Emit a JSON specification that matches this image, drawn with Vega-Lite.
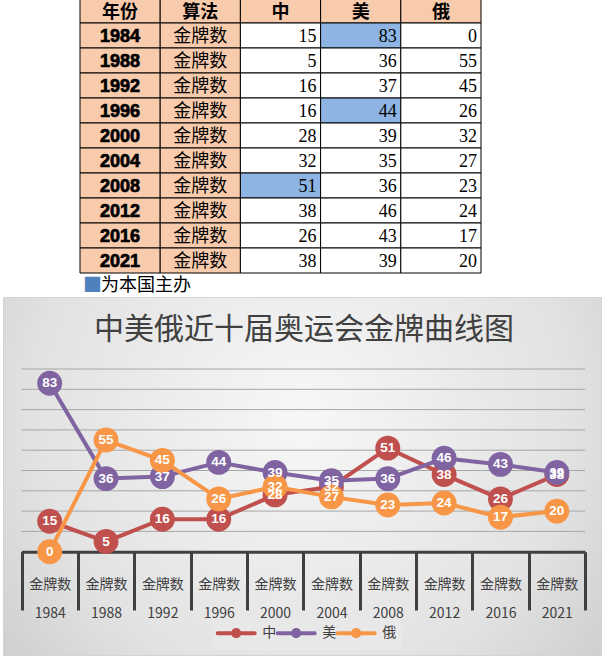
{
  "$schema": "https://vega.github.io/schema/vega-lite/v6.json",
  "padding": {"left": 2, "top": 0, "right": 0, "bottom": 0},
  "background": "#FFFFFF",
  "spacing": 0,
  "bounds": "flush",
  "config": {"font": "Noto Sans CJK SC"},
  "datasets": {
    "medals": [
      {"year": "1984", "country": "中", "value": 15, "host": "no"},
      {"year": "1988", "country": "中", "value": 5, "host": "no"},
      {"year": "1992", "country": "中", "value": 16, "host": "no"},
      {"year": "1996", "country": "中", "value": 16, "host": "no"},
      {"year": "2000", "country": "中", "value": 28, "host": "no"},
      {"year": "2004", "country": "中", "value": 32, "host": "no"},
      {"year": "2008", "country": "中", "value": 51, "host": "yes"},
      {"year": "2012", "country": "中", "value": 38, "host": "no"},
      {"year": "2016", "country": "中", "value": 26, "host": "no"},
      {"year": "2021", "country": "中", "value": 38, "host": "no"},
      {"year": "1984", "country": "美", "value": 83, "host": "yes"},
      {"year": "1988", "country": "美", "value": 36, "host": "no"},
      {"year": "1992", "country": "美", "value": 37, "host": "no"},
      {"year": "1996", "country": "美", "value": 44, "host": "yes"},
      {"year": "2000", "country": "美", "value": 39, "host": "no"},
      {"year": "2004", "country": "美", "value": 35, "host": "no"},
      {"year": "2008", "country": "美", "value": 36, "host": "no"},
      {"year": "2012", "country": "美", "value": 46, "host": "no"},
      {"year": "2016", "country": "美", "value": 43, "host": "no"},
      {"year": "2021", "country": "美", "value": 39, "host": "no"},
      {"year": "1984", "country": "俄", "value": 0, "host": "no"},
      {"year": "1988", "country": "俄", "value": 55, "host": "no"},
      {"year": "1992", "country": "俄", "value": 45, "host": "no"},
      {"year": "1996", "country": "俄", "value": 26, "host": "no"},
      {"year": "2000", "country": "俄", "value": 32, "host": "no"},
      {"year": "2004", "country": "俄", "value": 27, "host": "no"},
      {"year": "2008", "country": "俄", "value": 23, "host": "no"},
      {"year": "2012", "country": "俄", "value": 24, "host": "no"},
      {"year": "2016", "country": "俄", "value": 17, "host": "no"},
      {"year": "2021", "country": "俄", "value": 20, "host": "no"}
    ],
    "heads": [
      {"row": "header", "col": "年份", "text": "年份"},
      {"row": "header", "col": "算法", "text": "算法"},
      {"row": "header", "col": "中", "text": "中"},
      {"row": "header", "col": "美", "text": "美"},
      {"row": "header", "col": "俄", "text": "俄"},
      {"row": "1984", "col": "年份", "text": "1984"},
      {"row": "1984", "col": "算法", "text": "金牌数"},
      {"row": "1988", "col": "年份", "text": "1988"},
      {"row": "1988", "col": "算法", "text": "金牌数"},
      {"row": "1992", "col": "年份", "text": "1992"},
      {"row": "1992", "col": "算法", "text": "金牌数"},
      {"row": "1996", "col": "年份", "text": "1996"},
      {"row": "1996", "col": "算法", "text": "金牌数"},
      {"row": "2000", "col": "年份", "text": "2000"},
      {"row": "2000", "col": "算法", "text": "金牌数"},
      {"row": "2004", "col": "年份", "text": "2004"},
      {"row": "2004", "col": "算法", "text": "金牌数"},
      {"row": "2008", "col": "年份", "text": "2008"},
      {"row": "2008", "col": "算法", "text": "金牌数"},
      {"row": "2012", "col": "年份", "text": "2012"},
      {"row": "2012", "col": "算法", "text": "金牌数"},
      {"row": "2016", "col": "年份", "text": "2016"},
      {"row": "2016", "col": "算法", "text": "金牌数"},
      {"row": "2021", "col": "年份", "text": "2021"},
      {"row": "2021", "col": "算法", "text": "金牌数"}
    ]
  },
  "vconcat": [
    {
      "width": 598,
      "height": 297,
      "view": {"stroke": null},
      "layer": [
        {
          "data": {"name": "heads"},
          "mark": {"type": "rect", "color": "#F8CBAD", "stroke": "#000000", "strokeWidth": 1, "clip": true},
          "encoding": {
            "x": {"field": "col", "type": "nominal", "axis": null,
              "scale": {"type": "band", "domain": ["年份", "算法", "中", "美", "俄"], "range": [77, 478], "paddingInner": 0, "paddingOuter": 0}},
            "y": {"field": "row", "type": "nominal", "axis": null,
              "scale": {"type": "band", "domain": ["header", "1984", "1988", "1992", "1996", "2000", "2004", "2008", "2012", "2016", "2021", "note"], "range": [-2, 298], "paddingInner": 0, "paddingOuter": 0}}
          }
        },
        {
          "data": {"name": "medals"},
          "mark": {"type": "rect", "stroke": "#000000", "strokeWidth": 1},
          "encoding": {
            "x": {"field": "country", "type": "nominal", "axis": null},
            "y": {"field": "year", "type": "nominal", "axis": null},
            "fill": {"field": "host", "type": "nominal", "legend": null,
              "scale": {"domain": ["no", "yes"], "range": ["#FFFFFF", "#8DB4E2"]}}
          }
        },
        {
          "data": {"name": "heads"},
          "transform": [{"filter": "datum.row === 'header'"}],
          "mark": {"type": "text", "font": "Noto Sans CJK SC", "fontWeight": "bold", "fontSize": 18, "color": "#000000", "baseline": "middle", "dy": 2},
          "encoding": {
            "x": {"field": "col", "type": "nominal", "axis": null},
            "y": {"field": "row", "type": "nominal", "axis": null},
            "text": {"field": "text"}
          }
        },
        {
          "data": {"name": "heads"},
          "transform": [{"filter": "datum.col === '年份' && datum.row !== 'header'"}],
          "mark": {"type": "text", "font": "Liberation Sans", "fontWeight": "bold", "fontSize": 18, "color": "#000000", "stroke": "#000000", "strokeWidth": 0.7, "baseline": "middle", "dy": 1.5},
          "encoding": {
            "x": {"field": "col", "type": "nominal", "axis": null},
            "y": {"field": "row", "type": "nominal", "axis": null},
            "text": {"field": "text"}
          }
        },
        {
          "data": {"name": "heads"},
          "transform": [{"filter": "datum.col === '算法' && datum.row !== 'header'"}],
          "mark": {"type": "text", "font": "Noto Sans CJK SC", "fontSize": 18, "color": "#000000", "baseline": "middle", "dy": 1},
          "encoding": {
            "x": {"field": "col", "type": "nominal", "axis": null},
            "y": {"field": "row", "type": "nominal", "axis": null},
            "text": {"field": "text"}
          }
        },
        {
          "data": {"name": "medals"},
          "mark": {"type": "text", "font": "Liberation Serif", "fontSize": 18, "color": "#000000", "baseline": "middle", "align": "right", "dx": -4, "dy": 1.5},
          "encoding": {
            "x": {"field": "country", "type": "nominal", "axis": null, "bandPosition": 1},
            "y": {"field": "year", "type": "nominal", "axis": null},
            "text": {"field": "value", "type": "quantitative"}
          }
        },
        {
          "data": {"values": [{"row": "note", "col": "年份", "text": "■"}]},
          "mark": {"type": "text", "font": "Noto Sans CJK SC", "fontSize": 19, "color": "#4F81BD", "baseline": "middle", "align": "left", "dx": 3},
          "encoding": {
            "x": {"field": "col", "type": "nominal", "axis": null, "bandPosition": 0},
            "y": {"field": "row", "type": "nominal", "axis": null},
            "text": {"field": "text"}
          }
        },
        {
          "data": {"values": [{"row": "note", "col": "年份", "text": "为本国主办"}]},
          "mark": {"type": "text", "font": "Noto Sans CJK SC", "fontSize": 18, "color": "#000000", "baseline": "middle", "align": "left", "dx": 21},
          "encoding": {
            "x": {"field": "col", "type": "nominal", "axis": null, "bandPosition": 0},
            "y": {"field": "row", "type": "nominal", "axis": null},
            "text": {"field": "text"}
          }
        }
      ]
    },
    {
      "width": 598,
      "height": 358,
      "view": {
        "fill": {"gradient": "radial", "x1": 0.5, "y1": 0.4, "r1": 0, "x2": 0.5, "y2": 0.4, "r2": 0.75,
          "stops": [{"offset": 0, "color": "#F7F7F7"}, {"offset": 0.6, "color": "#E2E2E2"}, {"offset": 1, "color": "#C4C4C4"}]},
        "stroke": "#D4D4D4",
        "strokeWidth": 1
      },
      "title": {"text": "中美俄近十届奥运会金牌曲线图", "font": "Noto Sans CJK SC", "fontSize": 30, "fontWeight": "normal", "color": "#404040", "anchor": "middle", "offset": -48, "dx": 2},
      "data": {"name": "medals"},
      "encoding": {
        "x": {"field": "year", "type": "nominal",
          "scale": {"type": "band", "domain": ["1984", "1988", "1992", "1996", "2000", "2004", "2008", "2012", "2016", "2021"], "range": [18.5, 582], "paddingInner": 0, "paddingOuter": 0},
          "axis": {"title": null, "orient": "bottom", "offset": -103.3, "domainColor": "#404040", "domainWidth": 3,
            "tickBand": "extent", "tickSize": 58.3, "tickWidth": 3, "tickColor": "#404040",
            "labelAngle": 0, "labelExpr": "datum.extra ? '' : ['金牌数', datum.label]", "labelLineHeight": 29, "labelBaseline": "middle", "labelPadding": -25.5,
            "labelFont": "Noto Sans CJK SC", "labelFontSize": 14, "labelColor": "#404040", "labelOverlap": false, "labelBound": false, "labelFlush": false,
            "grid": false, "zindex": 0}},
        "y": {"field": "value", "type": "quantitative",
          "scale": {"domain": [0, 90], "range": [254.7, 72], "nice": false, "zero": false},
          "axis": null},
        "color": {"field": "country", "type": "nominal",
          "scale": {"domain": ["中", "美", "俄"], "range": ["#C0504D", "#8064A2", "#F79646"]},
          "legend": {"orient": "none", "legendX": 209.7, "legendY": 618.7, "direction": "horizontal", "title": null,
            "symbolType": "M-2.64,0H2.64M0.44,0A0.44,0.44,0,1,1,-0.44,0A0.44,0.44,0,1,1,0.44,0Z", "symbolSize": 196, "symbolStrokeWidth": 4,
            "symbolOffset": 9.5,
            "labelFont": "Noto Sans CJK SC", "labelFontSize": 14, "labelColor": "#404040", "labelOffset": 17, "columnPadding": -7, "padding": 5, "fillColor": "#E8E8E8",
            "encode": {"symbols": {"update": {
              "fill": {"signal": "datum.value === '中' ? '#C0504D' : datum.value === '美' ? '#8064A2' : '#F79646'"},
              "stroke": {"signal": "datum.value === '中' ? '#C0504D' : datum.value === '美' ? '#8064A2' : '#F79646'"},
              "strokeCap": {"value": "round"}}}}}}
      },
      "layer": [
        {
          "data": {"values": [{"level": 10}, {"level": 20}, {"level": 30}, {"level": 40}, {"level": 50}, {"level": 60}, {"level": 70}, {"level": 80}, {"level": 90}]},
          "mark": {"type": "rule", "strokeWidth": 1},
          "encoding": {
            "x": {"datum": "1984", "type": "nominal", "bandPosition": 0},
            "x2": {"datum": "2021", "bandPosition": 1},
            "y": {"field": "level", "type": "quantitative"},
            "color": {"value": "#A6A6A6"}
          }
        },
        {"transform": [{"filter": "datum.country === '中'"}], "mark": {"type": "line", "strokeWidth": 4, "strokeJoin": "round"}},
        {"transform": [{"filter": "datum.country === '中'"}], "mark": {"type": "circle", "size": 620, "opacity": 1}},
        {"transform": [{"filter": "datum.country === '美'"}], "mark": {"type": "line", "strokeWidth": 4, "strokeJoin": "round"}},
        {"transform": [{"filter": "datum.country === '美'"}], "mark": {"type": "circle", "size": 620, "opacity": 1}},
        {"transform": [{"filter": "datum.country === '俄'"}], "mark": {"type": "line", "strokeWidth": 4, "strokeJoin": "round"}},
        {"transform": [{"filter": "datum.country === '俄'"}], "mark": {"type": "circle", "size": 620, "opacity": 1}},
        {
          "mark": {"type": "text", "font": "Liberation Sans", "fontWeight": "bold", "fontSize": 13.5, "baseline": "middle", "align": "center"},
          "encoding": {"text": {"field": "value", "type": "quantitative"}, "color": {"value": "#FFFFFF"}}
        }
      ]
    }
  ]
}
